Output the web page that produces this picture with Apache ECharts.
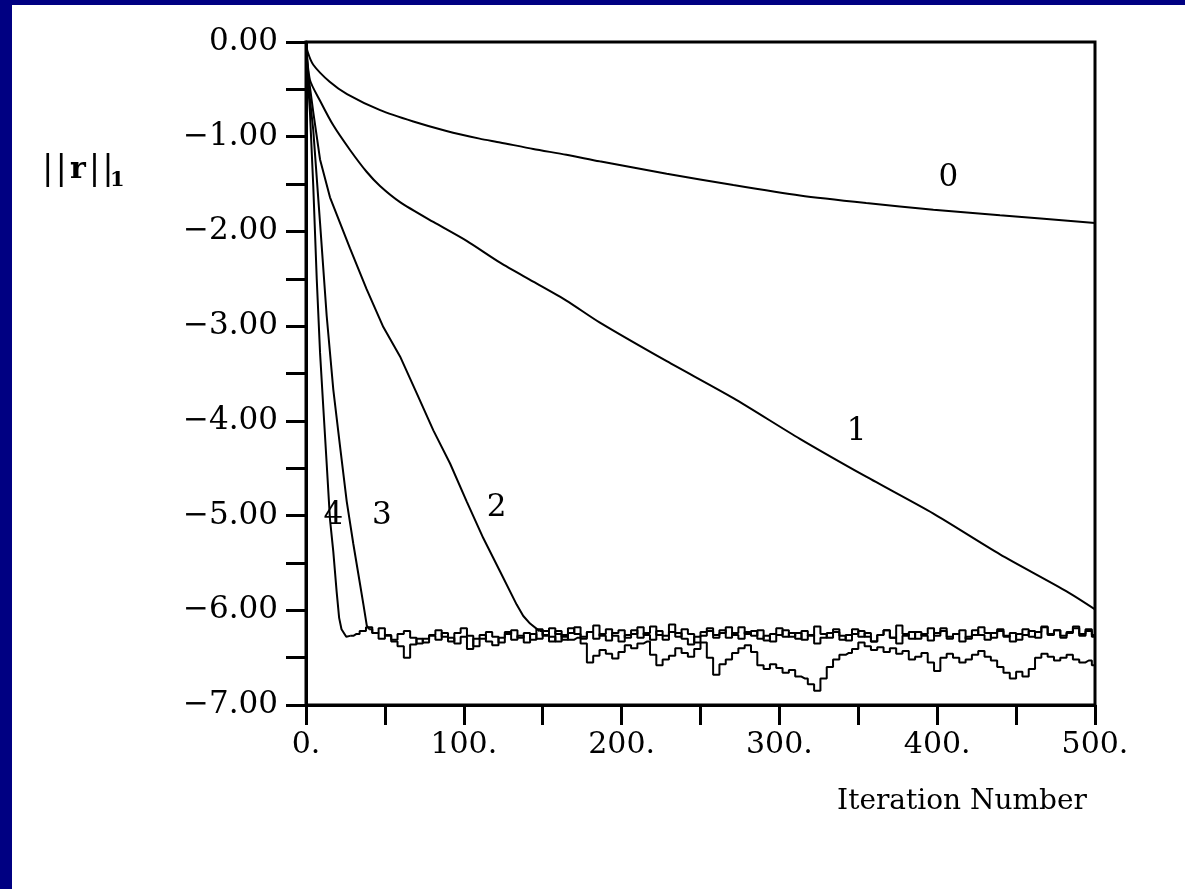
<!DOCTYPE html>
<html><head><meta charset="utf-8">
<script src="https://cdn.jsdelivr.net/npm/echarts@6/dist/echarts.min.js"></script>
<style>
html,body{margin:0;padding:0;width:1185px;height:889px;overflow:hidden;background:#000082;}
#paper{position:absolute;left:12px;top:5px;right:0;bottom:0;background:#fff;}
#chart{position:absolute;left:0;top:0;width:1185px;height:889px;}
</style></head><body>
<div id="paper"></div><div id="chart"></div>
<script>
// ---------- data ----------
const xTickLabels = ['0.', '100.', '200.', '300.', '400.', '500.'];
const yTickLabels = ['0.00', '−1.00', '−2.00', '−3.00', '−4.00', '−5.00', '−6.00', '−7.00'];
const xTitle = 'Iteration Number';

// curve 0
const it0 = [0, 1, 4.6, 15, 26, 47, 68, 89, 110, 123, 144, 165, 186, 228.6, 270.8, 313, 355, 397.6, 439.8, 500];
const r0  = [0, -0.10, -0.24, -0.42, -0.55, -0.72, -0.84, -0.94, -1.02, -1.06, -1.13, -1.19, -1.26, -1.39, -1.51, -1.62, -1.70, -1.77, -1.83, -1.91];
// curve 1
const it1 = [0, 2.5, 8.9, 17.3, 27.9, 38.4, 46.9, 59.6, 80.7, 101.8, 123, 144, 165, 186, 228.6, 270.8, 313, 355, 397.6, 439.8, 482, 500];
const r1  = [0, -0.40, -0.62, -0.88, -1.14, -1.37, -1.52, -1.69, -1.90, -2.10, -2.33, -2.53, -2.73, -2.96, -3.37, -3.76, -4.19, -4.59, -4.98, -5.41, -5.80, -5.99];
// curve 2 (descent, then noisy floor from iteration 148 every 4)
const it2 = [0, 1.5, 4.6, 8.9, 15.2, 27.9, 38.4, 49, 59.6, 70.2, 80.7, 91.3, 101.8, 112.4, 123, 133.5, 137.7, 142, 148];
const r2  = [0, -0.35, -0.74, -1.24, -1.64, -2.18, -2.61, -3.01, -3.32, -3.71, -4.10, -4.45, -4.85, -5.24, -5.59, -5.94, -6.06, -6.14, -6.22];
const tail2Start = 148;
const tail2 = [
  -6.22,-6.27,-6.19,-6.25,-6.31,-6.24,-6.18,-6.28,-6.23,-6.30,
  -6.25,-6.20,-6.27,-6.33,-6.26,-6.21,-6.29,-6.24,-6.17,-6.26,
  -6.31,-6.23,-6.28,-6.20,-6.25,-6.34,-6.27,-6.22,-6.29,-6.24,
  -6.18,-6.26,-6.30,-6.23,-6.27,-6.21,-6.32,-6.25,-6.19,-6.28,
  -6.24,-6.30,-6.22,-6.27,-6.17,-6.25,-6.29,-6.23,-6.31,-6.26,
  -6.20,-6.28,-6.24,-6.33,-6.26,-6.21,-6.29,-6.16,-6.25,-6.30,
  -6.23,-6.27,-6.32,-6.24,-6.19,-6.28,-6.25,-6.21,-6.30,-6.26,
  -6.18,-6.24,-6.29,-6.22,-6.27,-6.33,-6.25,-6.20,-6.28,-6.23,
  -6.17,-6.26,-6.21,-6.29,-6.24,-6.19,-6.27,-6.22,-6.28
];
// curve 3
const it3 = [0, 1.5, 4.6, 8.9, 13.1, 17.3, 21.5, 25.8, 30, 34.2, 36.5, 38.5, 40];
const r3  = [0, -0.45, -0.93, -1.91, -2.89, -3.67, -4.26, -4.85, -5.30, -5.72, -5.95, -6.16, -6.20];
const tail3Start = 40;
const tail3 = [
  -6.20,-6.24,-6.19,-6.27,-6.31,-6.25,-6.22,-6.29,-6.35,-6.30,
  -6.26,-6.21,-6.28,-6.33,-6.24,-6.19,-6.27,-6.38,-6.30,-6.23,
  -6.28,-6.34,-6.25,-6.21,-6.29,-6.24,-6.31,-6.20,-6.26,-6.33,
  -6.22,-6.28,-6.19,-6.25,-6.30,-6.23,-6.16,-6.27,-6.32,-6.24,
  -6.21,-6.29,-6.25,-6.18,-6.26,-6.31,-6.22,-6.27,-6.15,-6.24,
  -6.30,-6.36,-6.28,-6.23,-6.19,-6.26,-6.21,-6.29,-6.24,-6.18,
  -6.25,-6.22,-6.30,-6.27,-6.33,-6.26,-6.21,-6.28,-6.24,-6.31,
  -6.26,-6.35,-6.29,-6.24,-6.20,-6.27,-6.32,-6.25,-6.22,-6.28,
  -6.33,-6.26,-6.21,-6.29,-6.35,-6.27,-6.23,-6.30,-6.25,-6.19,
  -6.27,-6.22,-6.30,-6.25,-6.33,-6.28,-6.21,-6.26,-6.31,-6.24,
  -6.20,-6.28,-6.24,-6.31,-6.26,-6.22,-6.29,-6.18,-6.25,-6.21,
  -6.27,-6.23,-6.17,-6.25,-6.20,-6.26
];
// curve 4
const it4 = [0, 1, 2.5, 4.6, 6.8, 8.9, 11, 13.1, 15.2, 17.3, 19.4, 21, 22.5, 25.5, 28];
const r4  = [0, -0.35, -0.74, -1.52, -2.50, -3.28, -3.87, -4.45, -5.04, -5.38, -5.80, -6.08, -6.20, -6.28, -6.27];
const tail4Start = 28;
const tail4 = [
  -6.27,-6.25,-6.22,-6.18,-6.24,-6.30,-6.26,-6.33,-6.38,-6.50,
  -6.36,-6.30,-6.34,-6.27,-6.31,-6.24,-6.29,-6.35,-6.28,-6.41,
  -6.30,-6.26,-6.33,-6.37,-6.29,-6.23,-6.31,-6.27,-6.34,-6.25,
  -6.30,-6.22,-6.28,-6.33,-6.26,-6.31,-6.29,-6.35,-6.55,-6.48,
  -6.42,-6.46,-6.51,-6.44,-6.37,-6.40,-6.35,-6.33,-6.47,-6.58,
  -6.52,-6.48,-6.40,-6.45,-6.49,-6.41,-6.34,-6.50,-6.68,-6.57,
  -6.52,-6.45,-6.40,-6.37,-6.44,-6.58,-6.62,-6.57,-6.61,-6.66,
  -6.63,-6.70,-6.72,-6.78,-6.85,-6.72,-6.60,-6.52,-6.47,-6.45,
  -6.41,-6.34,-6.38,-6.42,-6.39,-6.44,-6.40,-6.46,-6.43,-6.52,
  -6.49,-6.45,-6.55,-6.64,-6.50,-6.46,-6.50,-6.55,-6.52,-6.47,
  -6.43,-6.49,-6.53,-6.60,-6.66,-6.72,-6.65,-6.70,-6.62,-6.50,
  -6.46,-6.49,-6.53,-6.50,-6.47,-6.52,-6.55,-6.53,-6.58
];
const tailStep = 4;

// curve number labels, placed in data coordinates
const curveNames = ['0', '1', '2', '3', '4'];
const nameX = [407, 349, 120.8, 48, 17.3];
const nameY = [-1.44, -4.12, -4.92, -5.0, -5.0];

// ---------- chart ----------
const FONT = '"DejaVu Serif", serif';
const pairs = (xs, ys) => xs.map((x, i) => [x, ys[i]]);
const tail = (start, ys) => ys.map((y, i) => [start + i * tailStep, y]);

const lineSeries = (data, extra) => Object.assign({
  type: 'line', data: data, showSymbol: false, symbol: 'none', smooth: false,
  lineStyle: {color: '#000', width: 2}, silent: true, z: 3
}, extra || {});

const chart = echarts.init(document.getElementById('chart'), null, {renderer: 'canvas'});
chart.setOption({
  animation: false,
  backgroundColor: 'transparent',
  grid: {left: 306, top: 42, width: 789, height: 663, show: true,
         borderColor: '#000', borderWidth: 3, backgroundColor: 'transparent'},
  xAxis: {
    type: 'value', min: 0, max: 500, interval: 50,
    axisLine: {show: true, onZero: false, lineStyle: {color: '#000', width: 3}},
    axisTick: {show: true, inside: false, length: 20, lineStyle: {color: '#000', width: 3}},
    axisLabel: {margin: 25, color: '#000', fontFamily: FONT, fontSize: 30,
      formatter: v => (v % 100 === 0 ? xTickLabels[v / 100] : '')},
    splitLine: {show: false}
  },
  yAxis: {
    type: 'value', min: -7, max: 0, interval: 0.5,
    axisLine: {show: true, onZero: false, lineStyle: {color: '#000', width: 3}},
    axisTick: {show: true, inside: false, length: 20, lineStyle: {color: '#000', width: 3}},
    axisLabel: {margin: 28, color: '#000', fontFamily: FONT, fontSize: 31,
      formatter: v => (Math.abs(v - Math.round(v)) < 1e-6 ? yTickLabels[Math.round(-v)] : '')},
    splitLine: {show: false}
  },
  series: [
    lineSeries(pairs(it0, r0), {smooth: 0.25}),
    lineSeries(pairs(it1, r1), {smooth: 0.25}),
    lineSeries(pairs(it2, r2)),
    lineSeries(tail(tail2Start, tail2), {step: 'middle'}),
    lineSeries(pairs(it3, r3)),
    lineSeries(tail(tail3Start, tail3), {step: 'middle'}),
    lineSeries(pairs(it4, r4)),
    lineSeries(tail(tail4Start, tail4), {step: 'middle'}),
    {
      type: 'scatter', silent: true, z: 5,
      data: curveNames.map((n, i) => [nameX[i], nameY[i], n]),
      symbolSize: 0, itemStyle: {color: '#000', opacity: 1},
      label: {show: true, position: 'inside', color: '#000', opacity: 1, fontFamily: FONT, fontSize: 31,
              textBorderWidth: 0, formatter: p => p.data[2]}
    }
  ],
  graphic: [
    {type: 'text', x: 1087, y: 802, silent: true,
     style: {text: xTitle, font: '28px "DejaVu Serif"', fill: '#000', align: 'right', verticalAlign: 'middle'}},
    {type: 'text', x: 41, y: 170, silent: true,
     style: {text: '{a||}{a||}{b|r}{a||}{a||}', fill: '#000', verticalAlign: 'middle',
       rich: {a: {font: '34px "DejaVu Serif"', fill: '#000', padding: [0, 1, 0, 1]},
              b: {font: 'bold 30px "DejaVu Serif"', fill: '#000', padding: [0, 2, 0, 2]}}}},
    {type: 'text', x: 110, y: 181, silent: true,
     style: {text: '1', font: 'bold 21px "DejaVu Serif"', fill: '#000', verticalAlign: 'middle'}}
  ]
});
</script></body></html>
